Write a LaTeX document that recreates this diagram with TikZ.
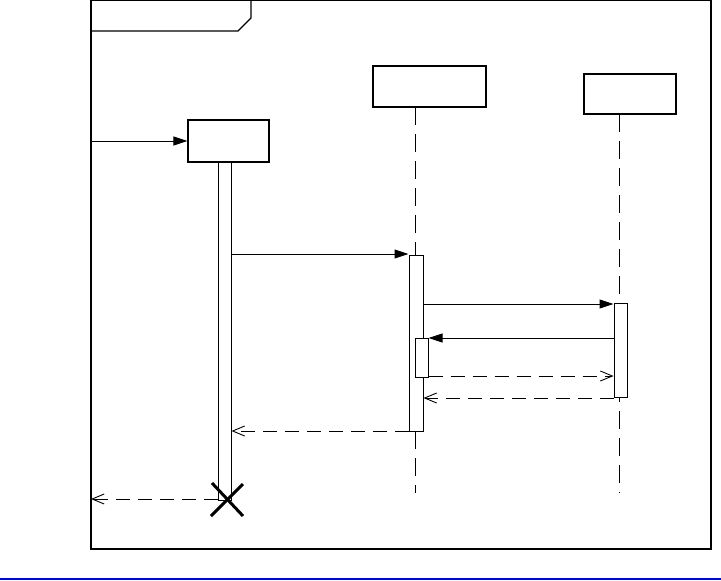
\documentclass[tikz,border=0pt]{standalone}
\usetikzlibrary{arrows.meta}
\begin{document}
\begin{tikzpicture}[x=1pt,y=-1pt,
  objbox/.style={draw=black,line width=1.2pt,fill=white,minimum width=#1,inner sep=0pt},
  actbar/.style={draw=black,line width=1pt,fill=white,inner sep=0pt},
  lifeline/.style={draw=black,line width=0.9pt,dash pattern=on 18pt off 9pt},
  callmsg/.style={draw=black,line width=1pt,-{Triangle[length=14pt,width=9pt]}},
  retmsg/.style={draw=black,line width=1pt,dash pattern=on 14pt off 8pt,-{Straight Barb[length=12pt,width=10pt,line width=0.9pt]}},
  framestyle/.style={draw=black,line width=1.3pt}]
\useasboundingbox (0,0) rectangle (721,581);
% frame
\draw[framestyle] (91,0.7) rectangle (711,549);
\draw[framestyle] (251,0.7) -- (251,18) -- (238,31) -- (91,31);
% blue rule
\draw[draw={rgb,255:red,0;green,0;blue,255},line width=2pt] (0,579) -- (721,579);
% lifeline heads
\node[objbox=81pt,minimum height=42pt] (o1) at (228.5,141) {};
\node[objbox=113pt,minimum height=41pt] (o2) at (429.5,86.5) {};
\node[objbox=92pt,minimum height=40pt] (o3) at (630,94) {};
% lifelines
\coordinate (l2top) at (415,107);
\coordinate (l2bot) at (415,493);
\coordinate (l3top) at (619.5,114);
\coordinate (l3bot) at (619.5,493);
\draw[lifeline] (l2top) -- (l2bot);
\draw[lifeline] (l3top) -- (l3bot);
% activations
\node[actbar,minimum width=13pt,minimum height=338pt] (a1) at (224.5,331) {};
\node[actbar,minimum width=14pt,minimum height=176pt] (a2) at (416,343) {};
\node[actbar,minimum width=13pt,minimum height=39pt] (a2n) at (421.5,357.5) {};
\node[actbar,minimum width=13pt,minimum height=94pt] (a3) at (620.5,350) {};
% messages
\coordinate (gin) at (91,141);
\coordinate (gout) at (91,499);
\coordinate (xc) at (226,499);
\draw[callmsg] (gin) -- (gin -| o1.west);
\draw[callmsg] (a1.east |- 0,254) -- (a2.west |- 0,254);
\draw[callmsg] (a2.east |- 0,304) -- (a3.west |- 0,304);
\draw[callmsg] (a3.west |- 0,338) -- (a2n.east |- 0,338);
\draw[retmsg] (a2n.east |- 0,376) -- (a3.west |- 0,376);
\draw[retmsg] (a3.west |- 0,398) -- (a2.east |- 0,398);
\draw[retmsg] (a2.west |- 0,431) -- (a1.east |- 0,431);
\draw[retmsg] (xc -| a1.west) -- (gout);
% destruction mark
\draw[line width=3pt] ([shift={(-14,-16)}]xc) -- ([shift={(17,17)}]xc);
\draw[line width=3pt] ([shift={(17,-15)}]xc) -- ([shift={(-15,17)}]xc);
\end{tikzpicture}
\end{document}
